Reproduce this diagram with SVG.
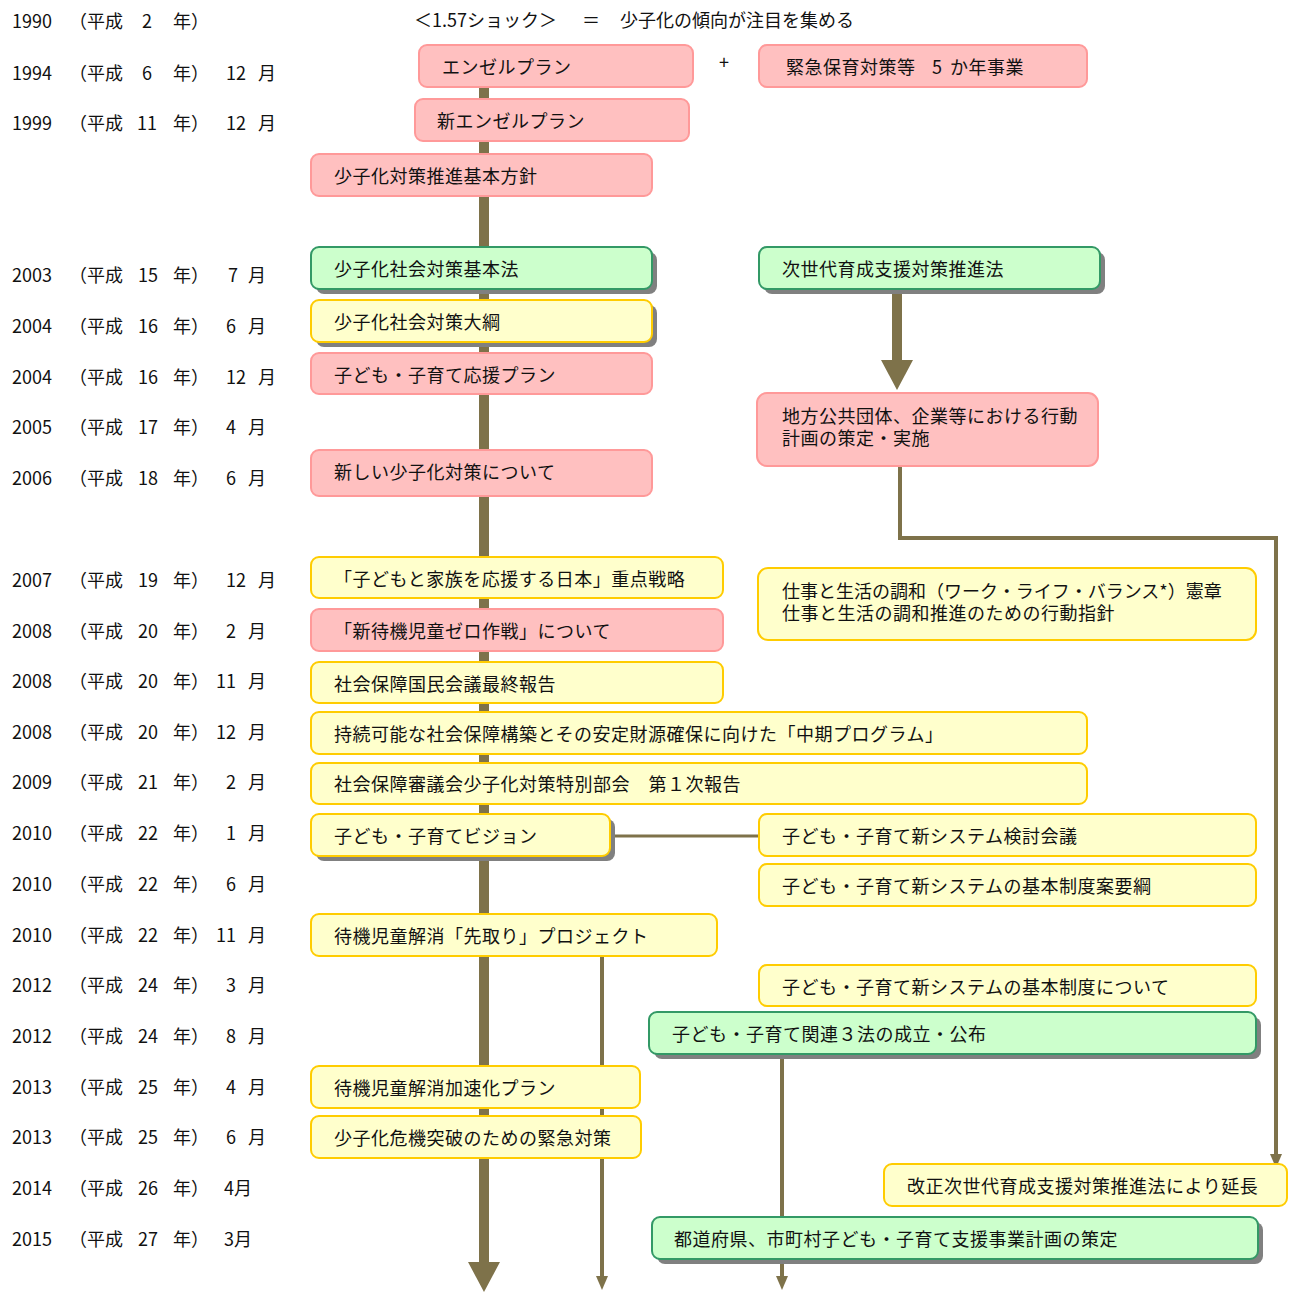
<svg xmlns="http://www.w3.org/2000/svg" width="1296" height="1293" viewBox="0 0 1296 1293">
<style>
text{font-family:"Noto Sans CJK JP","Noto Sans",sans-serif;font-size:18px;fill:#111}
.nd text{letter-spacing:0.5px}
.pk{fill:#FFC0C0;stroke:#FF9999;stroke-width:2}
.gr{fill:#CCFFCC;stroke:#339966;stroke-width:2}
.ye{fill:#FFFFCC;stroke:#FFCC00;stroke-width:2}
.sh{fill:#808080}
.ln{stroke:#7E724A;fill:none}
.ah{fill:#7E724A}
</style>
<rect width="1296" height="1293" fill="#fff"/>
<g id="connectors">
<line class="ln" x1="484" y1="87" x2="484" y2="1264" stroke-width="10"/>
<polygon class="ah" points="468,1262 500,1262 484,1292"/>
<line class="ln" x1="897" y1="289" x2="897" y2="362" stroke-width="10"/>
<polygon class="ah" points="881,360 913,360 897,390"/>
<polyline class="ln" points="900,466 900,538 1276,538 1276,1156" stroke-width="4"/>
<polygon class="ah" points="1270,1154 1282,1154 1276,1168"/>
<line class="ln" x1="610" y1="836" x2="759" y2="836" stroke-width="3"/>
<line class="ln" x1="602" y1="956" x2="602" y2="1278" stroke-width="4"/>
<polygon class="ah" points="596,1276 608,1276 602,1290"/>
<line class="ln" x1="782" y1="1054" x2="782" y2="1278" stroke-width="4"/>
<polygon class="ah" points="776,1276 788,1276 782,1290"/>
</g>
<g id="years">
<text y="28"><tspan x="12">1990</tspan><tspan x="69">（平成</tspan><tspan x="147" text-anchor="middle">2</tspan><tspan x="173">年）</tspan></text>
<text y="80"><tspan x="12">1994</tspan><tspan x="69">（平成</tspan><tspan x="147" text-anchor="middle">6</tspan><tspan x="173">年）</tspan><tspan x="226">12</tspan><tspan x="258">月</tspan></text>
<text y="130"><tspan x="12">1999</tspan><tspan x="69">（平成</tspan><tspan x="147" text-anchor="middle">11</tspan><tspan x="173">年）</tspan><tspan x="226">12</tspan><tspan x="258">月</tspan></text>
<text y="282"><tspan x="12">2003</tspan><tspan x="69">（平成</tspan><tspan x="148" text-anchor="middle">15</tspan><tspan x="173">年）</tspan><tspan x="228">7</tspan><tspan x="248">月</tspan></text>
<text y="333"><tspan x="12">2004</tspan><tspan x="69">（平成</tspan><tspan x="148" text-anchor="middle">16</tspan><tspan x="173">年）</tspan><tspan x="226">6</tspan><tspan x="248">月</tspan></text>
<text y="384"><tspan x="12">2004</tspan><tspan x="69">（平成</tspan><tspan x="148" text-anchor="middle">16</tspan><tspan x="173">年）</tspan><tspan x="226">12</tspan><tspan x="258">月</tspan></text>
<text y="434"><tspan x="12">2005</tspan><tspan x="69">（平成</tspan><tspan x="148" text-anchor="middle">17</tspan><tspan x="173">年）</tspan><tspan x="226">4</tspan><tspan x="248">月</tspan></text>
<text y="485"><tspan x="12">2006</tspan><tspan x="69">（平成</tspan><tspan x="148" text-anchor="middle">18</tspan><tspan x="173">年）</tspan><tspan x="226">6</tspan><tspan x="248">月</tspan></text>
<text y="587"><tspan x="12">2007</tspan><tspan x="69">（平成</tspan><tspan x="148" text-anchor="middle">19</tspan><tspan x="173">年）</tspan><tspan x="226">12</tspan><tspan x="258">月</tspan></text>
<text y="638"><tspan x="12">2008</tspan><tspan x="69">（平成</tspan><tspan x="148" text-anchor="middle">20</tspan><tspan x="173">年）</tspan><tspan x="226">2</tspan><tspan x="248">月</tspan></text>
<text y="688"><tspan x="12">2008</tspan><tspan x="69">（平成</tspan><tspan x="148" text-anchor="middle">20</tspan><tspan x="173">年）</tspan><tspan x="216">11</tspan><tspan x="248">月</tspan></text>
<text y="739"><tspan x="12">2008</tspan><tspan x="69">（平成</tspan><tspan x="148" text-anchor="middle">20</tspan><tspan x="173">年）</tspan><tspan x="216">12</tspan><tspan x="248">月</tspan></text>
<text y="789"><tspan x="12">2009</tspan><tspan x="69">（平成</tspan><tspan x="148" text-anchor="middle">21</tspan><tspan x="173">年）</tspan><tspan x="226">2</tspan><tspan x="248">月</tspan></text>
<text y="840"><tspan x="12">2010</tspan><tspan x="69">（平成</tspan><tspan x="148" text-anchor="middle">22</tspan><tspan x="173">年）</tspan><tspan x="226">1</tspan><tspan x="248">月</tspan></text>
<text y="891"><tspan x="12">2010</tspan><tspan x="69">（平成</tspan><tspan x="148" text-anchor="middle">22</tspan><tspan x="173">年）</tspan><tspan x="226">6</tspan><tspan x="248">月</tspan></text>
<text y="942"><tspan x="12">2010</tspan><tspan x="69">（平成</tspan><tspan x="148" text-anchor="middle">22</tspan><tspan x="173">年）</tspan><tspan x="216">11</tspan><tspan x="248">月</tspan></text>
<text y="992"><tspan x="12">2012</tspan><tspan x="69">（平成</tspan><tspan x="148" text-anchor="middle">24</tspan><tspan x="173">年）</tspan><tspan x="226">3</tspan><tspan x="248">月</tspan></text>
<text y="1043"><tspan x="12">2012</tspan><tspan x="69">（平成</tspan><tspan x="148" text-anchor="middle">24</tspan><tspan x="173">年）</tspan><tspan x="226">8</tspan><tspan x="248">月</tspan></text>
<text y="1094"><tspan x="12">2013</tspan><tspan x="69">（平成</tspan><tspan x="148" text-anchor="middle">25</tspan><tspan x="173">年）</tspan><tspan x="226">4</tspan><tspan x="248">月</tspan></text>
<text y="1144"><tspan x="12">2013</tspan><tspan x="69">（平成</tspan><tspan x="148" text-anchor="middle">25</tspan><tspan x="173">年）</tspan><tspan x="226">6</tspan><tspan x="248">月</tspan></text>
<text y="1195"><tspan x="12">2014</tspan><tspan x="69">（平成</tspan><tspan x="148" text-anchor="middle">26</tspan><tspan x="173">年）</tspan><tspan x="224">4月</tspan></text>
<text y="1246"><tspan x="12">2015</tspan><tspan x="69">（平成</tspan><tspan x="148" text-anchor="middle">27</tspan><tspan x="173">年）</tspan><tspan x="224">3月</tspan></text>
</g>
<g id="heading">
<text y="27"><tspan x="414">＜1.57ショック＞</tspan><tspan x="582">＝</tspan><tspan x="620">少子化の傾向が注目を集める</tspan></text>
<text x="724" y="69" text-anchor="middle" font-size="14">+</text>
</g>
<g id="n1" class="nd"><rect class="pk" x="419" y="45" width="274" height="42" rx="8"/><text x="442" y="74">エンゼルプラン</text></g>
<g id="n2" class="nd"><rect class="pk" x="759" y="45" width="328" height="42" rx="8"/><text y="74"><tspan x="786">緊急保育対策等</tspan><tspan x="932">5</tspan><tspan x="950">か年事業</tspan></text></g>
<g id="n3" class="nd"><rect class="pk" x="415" y="99" width="274" height="42" rx="8"/><text x="437" y="128">新エンゼルプラン</text></g>
<g id="n4" class="nd"><rect class="pk" x="311" y="154" width="341" height="42" rx="8"/><text x="334" y="183">少子化対策推進基本方針</text></g>
<g id="n5" class="nd"><rect class="sh" x="316" y="252" width="341" height="42" rx="8"/><rect class="gr" x="311" y="247" width="341" height="42" rx="8"/><text x="334" y="276">少子化社会対策基本法</text></g>
<g id="n6" class="nd"><rect class="sh" x="764" y="252" width="341" height="42" rx="8"/><rect class="gr" x="759" y="247" width="341" height="42" rx="8"/><text x="782" y="276">次世代育成支援対策推進法</text></g>
<g id="n7" class="nd"><rect class="sh" x="316" y="305" width="341" height="42" rx="8"/><rect class="ye" x="311" y="300" width="341" height="42" rx="8"/><text x="334" y="329">少子化社会対策大綱</text></g>
<g id="n8" class="nd"><rect class="pk" x="311" y="353" width="341" height="41" rx="8"/><text x="334" y="382">子ども・子育て応援プラン</text></g>
<g id="n9" class="nd"><rect class="pk" x="757" y="393" width="341" height="73" rx="10"/><text y="423"><tspan x="782">地方公共団体、企業等における行動</tspan><tspan x="782" dy="22">計画の策定・実施</tspan></text></g>
<g id="n10" class="nd"><rect class="pk" x="311" y="450" width="341" height="46" rx="8"/><text x="334" y="479">新しい少子化対策について</text></g>
<g id="n11" class="nd"><rect class="ye" x="311" y="557" width="412" height="41" rx="8"/><text x="334" y="586">「子どもと家族を応援する日本」重点戦略</text></g>
<g id="n12" class="nd"><rect class="ye" x="758" y="568" width="498" height="72" rx="10"/><text y="598"><tspan x="782" letter-spacing="0">仕事と生活の調和（ワーク・ライフ・バランス*）憲章</tspan><tspan x="782" dy="22">仕事と生活の調和推進のための行動指針</tspan></text></g>
<g id="n13" class="nd"><rect class="pk" x="311" y="609" width="412" height="42" rx="8"/><text x="334" y="638">「新待機児童ゼロ作戦」について</text></g>
<g id="n14" class="nd"><rect class="ye" x="311" y="662" width="412" height="41" rx="8"/><text x="334" y="691">社会保障国民会議最終報告</text></g>
<g id="n15" class="nd"><rect class="ye" x="311" y="712" width="776" height="42" rx="8"/><text x="334" y="741">持続可能な社会保障構築とその安定財源確保に向けた「中期プログラム」</text></g>
<g id="n16" class="nd"><rect class="ye" x="311" y="763" width="776" height="41" rx="8"/><text x="334" y="791">社会保障審議会少子化対策特別部会　第１次報告</text></g>
<g id="n17" class="nd"><rect class="sh" x="316" y="819" width="299" height="42" rx="8"/><rect class="ye" x="311" y="814" width="299" height="42" rx="8"/><text x="334" y="843">子ども・子育てビジョン</text></g>
<g id="n18" class="nd"><rect class="ye" x="759" y="814" width="497" height="42" rx="8"/><text x="782" y="843">子ども・子育て新システム検討会議</text></g>
<g id="n19" class="nd"><rect class="ye" x="759" y="864" width="497" height="42" rx="8"/><text x="782" y="893">子ども・子育て新システムの基本制度案要綱</text></g>
<g id="n20" class="nd"><rect class="ye" x="311" y="914" width="406" height="42" rx="8"/><text x="334" y="943">待機児童解消「先取り」プロジェクト</text></g>
<g id="n21" class="nd"><rect class="ye" x="759" y="965" width="497" height="41" rx="8"/><text x="782" y="994">子ども・子育て新システムの基本制度について</text></g>
<g id="n22" class="nd"><rect class="sh" x="654" y="1017" width="607" height="42" rx="8"/><rect class="gr" x="649" y="1012" width="607" height="42" rx="8"/><text x="672" y="1041">子ども・子育て関連３法の成立・公布</text></g>
<g id="n23" class="nd"><rect class="ye" x="311" y="1066" width="329" height="42" rx="8"/><text x="334" y="1095">待機児童解消加速化プラン</text></g>
<g id="n24" class="nd"><rect class="ye" x="311" y="1116" width="330" height="42" rx="8"/><text x="334" y="1145">少子化危機突破のための緊急対策</text></g>
<g id="n25" class="nd"><rect class="ye" x="884" y="1164" width="403" height="42" rx="8"/><text x="907" y="1193">改正次世代育成支援対策推進法により延長</text></g>
<g id="n26" class="nd"><rect class="sh" x="657" y="1222" width="606" height="42" rx="8"/><rect class="gr" x="652" y="1217" width="606" height="42" rx="8"/><text x="674" y="1246">都道府県、市町村子ども・子育て支援事業計画の策定</text></g>
</svg>
